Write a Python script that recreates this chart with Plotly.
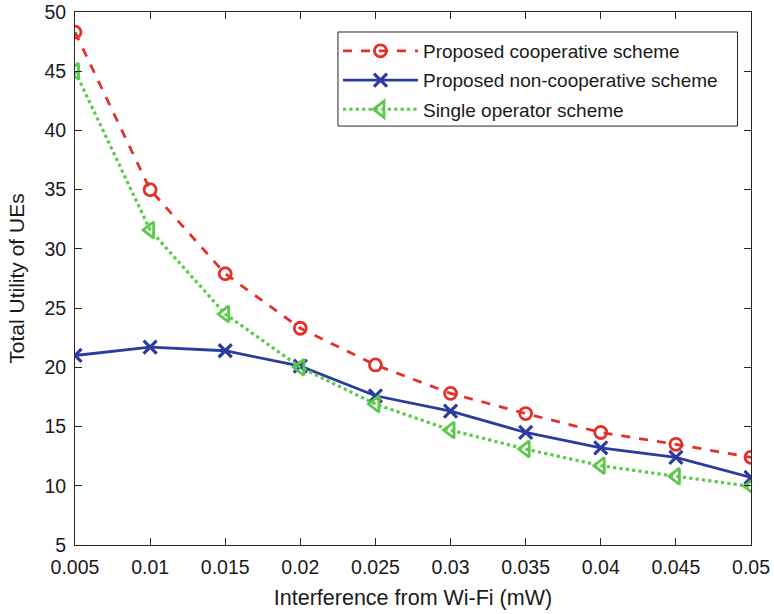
import plotly.graph_objects as go

# Interference levels (mW)
interference = [0.005, 0.01, 0.015, 0.02, 0.025, 0.03, 0.035, 0.04, 0.045, 0.05]
x_tick_labels = ["0.005", "0.01", "0.015", "0.02", "0.025", "0.03", "0.035", "0.04", "0.045", "0.05"]

# Total utility of UEs per scheme
cooperative = [48.3, 35.0, 27.9, 23.3, 20.2, 17.8, 16.1, 14.5, 13.5, 12.4]
non_cooperative = [21.0, 21.7, 21.4, 20.1, 17.6, 16.3, 14.5, 13.2, 12.4, 10.7]
single_operator = [45.0, 31.6, 24.5, 20.0, 16.9, 14.7, 13.1, 11.7, 10.8, 9.95]

y_ticks = [5, 10, 15, 20, 25, 30, 35, 40, 45, 50]

RED = "#e5302a"
BLUE = "#2c3c9d"
GREEN = "#5cc94c"
AXIS = "#262626"
TEXT = "#1a1a1a"
FONT = "Liberation Sans, Arial, sans-serif"

fig = go.Figure()

fig.add_trace(go.Scatter(
    x=interference, y=cooperative, name="Proposed cooperative scheme",
    mode="lines+markers", legendgroup="a",
    line=dict(color=RED, width=2.8, dash="dash"),
    marker=dict(symbol="circle-open", size=12, color=RED, line=dict(width=2.8)),
))
fig.add_trace(go.Scatter(
    x=interference, y=non_cooperative, name="Proposed non-cooperative scheme",
    mode="lines+markers", legendgroup="b",
    line=dict(color=BLUE, width=2.8),
    marker=dict(symbol="x-thin-open", size=13, color=BLUE, line=dict(width=3.2, color=BLUE)),
))
fig.add_trace(go.Scatter(
    x=interference, y=single_operator, name="Single operator scheme",
    mode="lines+markers", legendgroup="c",
    line=dict(color=GREEN, width=3.2, dash="dot"),
    marker=dict(symbol="triangle-left-open", size=14, color=GREEN, line=dict(width=2.8)),
))

axis_common = dict(
    showline=True, linecolor=AXIS, linewidth=1, mirror="ticks",
    ticks="inside", ticklen=7, tickcolor=AXIS, tickwidth=1,
    showgrid=False, zeroline=False, automargin=False,
    tickfont=dict(family=FONT, size=19.5, color=TEXT),
)

fig.update_xaxes(
    range=[0.005, 0.05], tickvals=interference, ticktext=x_tick_labels,
    ticklabelstandoff=5,
    title=dict(text="Interference from Wi-Fi (mW)", font=dict(family=FONT, size=21.5, color=TEXT), standoff=12),
    **axis_common,
)
fig.update_yaxes(
    range=[5, 50], tickvals=y_ticks,
    ticklabelstandoff=4,
    title=dict(text="Total Utility of UEs", font=dict(family=FONT, size=21, color=TEXT), standoff=14),
    **axis_common,
)

# Legend frame, slightly wider than plotly's own legend box
fig.add_shape(
    type="rect", xref="paper", yref="paper",
    x0=0.389, x1=0.980, y0=0.786, y1=0.9625,
    fillcolor="white", line=dict(color=AXIS, width=1), layer="above",
)

fig.update_layout(
    width=774, height=614,
    margin=dict(l=75, r=23, t=12, b=69),
    plot_bgcolor="white", paper_bgcolor="white",
    font=dict(family=FONT, color=TEXT),
    legend=dict(
        x=0.389, y=0.9625, xanchor="left", yanchor="top",
        bgcolor="rgba(0,0,0,0)", borderwidth=0,
        font=dict(family=FONT, size=19, color=TEXT),
        itemwidth=75, tracegroupgap=1.5,
    ),
    showlegend=True,
)

fig.write_html("out.html")
